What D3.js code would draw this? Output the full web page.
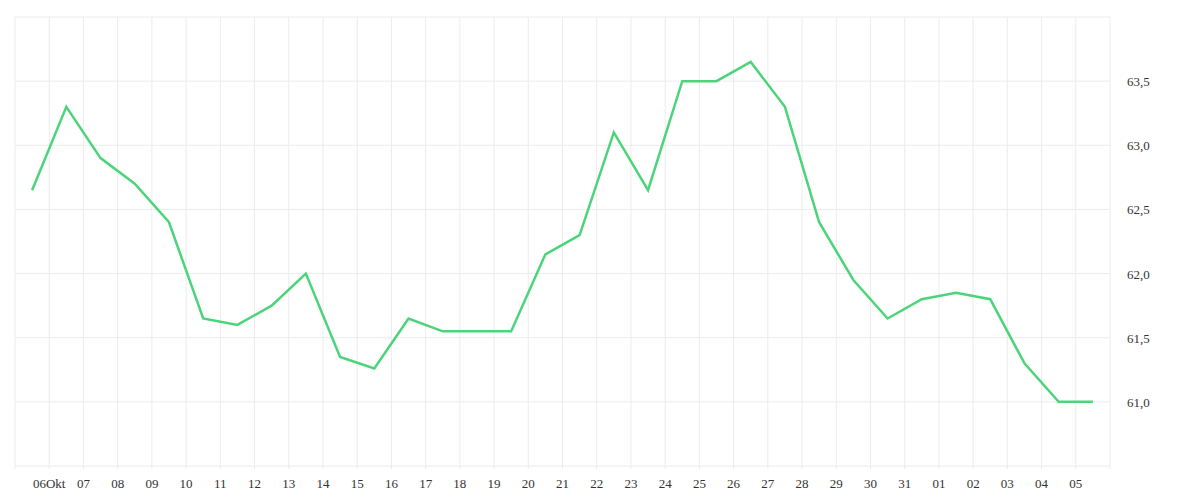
<!DOCTYPE html>
<html>
<head>
  <meta charset="utf-8">
  <script src="https://d3js.org/d3.v7.min.js"></script>
  <style>
    html, body { margin: 0; background: #fff; }
    text { font: 13px "Liberation Serif", serif; fill: #333; }
  </style>
</head>
<body>
  <svg id="chart" width="1200" height="500"></svg>
  <script>
    // data: one value per day at noon, 5 Oct .. 5 Nov
    const startDay = new Date(2023, 9, 5, 12);
    const values = [62.65, 63.3, 62.9, 62.7, 62.4, 61.65, 61.6, 61.75, 62.0, 61.35, 61.26,
      61.65, 61.55, 61.55, 61.55, 62.15, 62.3, 63.1, 62.65, 63.5, 63.5, 63.65, 63.3,
      62.4, 61.95, 61.65, 61.8, 61.85, 61.8, 61.3, 61.0, 61.0];
    const yTicks = [61.0, 61.5, 62.0, 62.5, 63.0, 63.5];

    const data = values.map((v, i) => ({ date: d3.timeDay.offset(startDay, i), value: v }));

    const svg = d3.select("#chart");
    const mLeft = 15, mRight = 1110, mTop = 17, mBottom = 466;

    const x = d3.scaleTime()
      .domain([new Date(2023, 9, 5), new Date(2023, 10, 6)])
      .range([mLeft, mRight]);
    const y = d3.scaleLinear().domain([60.5, 64.0]).range([mBottom, mTop]);

    const days = d3.timeDay.range(new Date(2023, 9, 6), new Date(2023, 10, 6));

    // grid
    svg.append("g").selectAll("line")
      .data([x.domain()[0]].concat(days, [x.domain()[1]]))
      .join("line")
      .attr("x1", d => x(d)).attr("x2", d => x(d))
      .attr("y1", mTop).attr("y2", mBottom + 3)
      .attr("stroke", "#ececec");
    svg.append("g").selectAll("line")
      .data(d3.range(60.5, 64.01, 0.5))
      .join("line")
      .attr("x1", mLeft).attr("x2", mRight)
      .attr("y1", d => y(d)).attr("y2", d => y(d))
      .attr("stroke", "#ececec");

    // x labels
    const fmt = d => (d.getDate() === 6 && d.getMonth() === 9) ? "06Okt" : d3.timeFormat("%d")(d);
    svg.append("g").selectAll("text")
      .data(days)
      .join("text")
      .attr("x", d => x(d)).attr("y", 488)
      .attr("text-anchor", "middle")
      .text(fmt);

    // y labels
    svg.append("g").selectAll("text")
      .data(yTicks)
      .join("text")
      .attr("x", 1127).attr("y", d => y(d) + 5)
      .text(d => d.toFixed(1).replace(".", ","));

    // line
    svg.append("path")
      .datum(data)
      .attr("fill", "none")
      .attr("stroke", "#4cd47a")
      .attr("stroke-width", 2.5)
      .attr("d", d3.line().x(d => x(d.date)).y(d => y(d.value)));
  </script>
</body>
</html>
